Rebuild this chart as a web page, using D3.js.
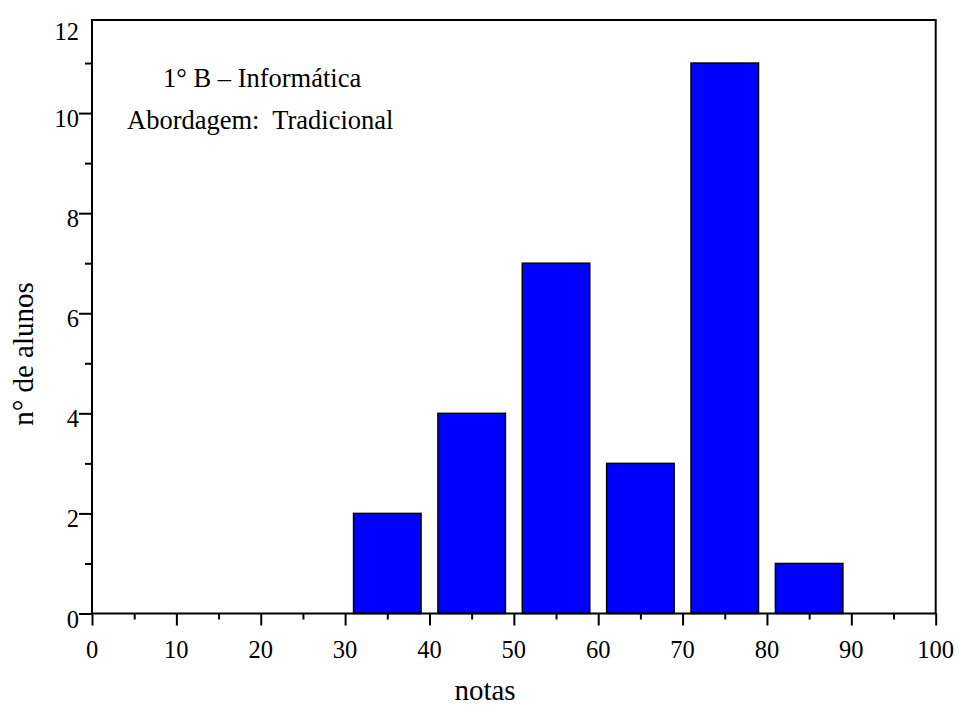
<!DOCTYPE html>
<html><head><meta charset="utf-8">
<script src="https://cdn.jsdelivr.net/npm/d3@7"></script>
<style>
body{margin:0;background:#fff;}
text{font-family:"Liberation Serif","Times New Roman",serif;fill:#000;}
</style></head>
<body><svg id="c" width="958" height="707"></svg>
<script>
const binStart = [0,10,20,30,40,50,60,70,80,90];
const counts   = [0,0,0,2,4,7,3,11,1,0];
const xTicks = [0,10,20,30,40,50,60,70,80,90,100];
const yTicks = [0,2,4,6,8,10,12];
const annotations = ["1° B – Informática", "Abordagem:  Tradicional"];
const xTitle = "notas", yTitle = "n° de alunos";

const svg = d3.select("#c");
const L=92, R=935.7, B=613.5, T=20;
const x = d3.scaleLinear().domain([0,100]).range([L,R]);
const y = d3.scaleLinear().domain([0,12]).range([B,13]);

// bars
const data = binStart.map((s,i)=>({s, v:counts[i]})).filter(d=>d.v>0);
svg.append("g").selectAll("rect").data(data).join("rect")
  .attr("x",d=>x(d.s+1)).attr("width",d=>x(d.s+9)-x(d.s+1))
  .attr("y",d=>y(d.v)).attr("height",d=>y(0)-y(d.v))
  .attr("fill","#0000ff").attr("stroke","#000").attr("stroke-width",1.5);

// x axis
const gx = svg.append("g").attr("transform",`translate(0,${B})`)
  .call(d3.axisBottom(x).tickValues(d3.range(0,101,5)).tickSize(12).tickPadding(0).tickFormat(""));
gx.selectAll(".tick line").attr("stroke","#000").attr("stroke-width",2)
  .attr("y2",d=>d%10===0?12:6);
gx.select(".domain").remove();
svg.append("g").selectAll("text").data(xTicks).join("text")
  .attr("x",d=>x(d)).attr("y",658).attr("text-anchor","middle")
  .attr("font-size",24.5).text(d=>d);

// y axis
const gy = svg.append("g").attr("transform",`translate(${L},0)`)
  .call(d3.axisLeft(y).tickValues(d3.range(0,12,1)).tickSize(13).tickFormat(""));
gy.selectAll(".tick line").attr("stroke","#000").attr("stroke-width",2)
  .attr("x2",d=>d%2===0?-13:-7);
gy.select(".domain").remove();
svg.append("g").selectAll("text").data(yTicks).join("text")
  .attr("x",79).attr("y",d=>d===12?40:y(d)+14).attr("text-anchor","end")
  .attr("font-size",24.5).text(d=>d);

// frame
svg.append("rect").attr("x",L).attr("y",T).attr("width",R-L).attr("height",B-T)
  .attr("fill","none").attr("stroke","#000").attr("stroke-width",2);

// annotations
svg.append("text").attr("x",163).attr("y",87).attr("font-size",26.5).text(annotations[0]);
svg.append("text").attr("x",127).attr("y",129).attr("font-size",26.5)
  .attr("xml:space","preserve").style("white-space","pre").text(annotations[1]);

// titles
svg.append("text").attr("x",485).attr("y",700).attr("text-anchor","middle")
  .attr("font-size",29).text(xTitle);
svg.append("text").attr("transform","translate(33,354) rotate(-90)").attr("text-anchor","middle")
  .attr("font-size",29).text(yTitle);
</script></body></html>
